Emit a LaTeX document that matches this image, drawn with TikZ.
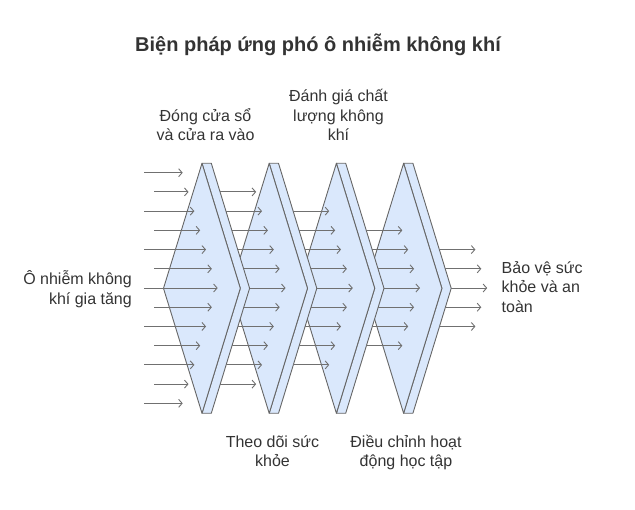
\documentclass[tikz,border=0pt]{standalone}
\usepackage{fontspec}
\setmainfont{Liberation Sans}
\usetikzlibrary{arrows.meta}
\definecolor{platefill}{HTML}{DAE8FC}
\definecolor{edgecol}{HTML}{666666}
\definecolor{arrowcol}{HTML}{707070}
\definecolor{txt}{HTML}{333333}
\begin{document}
\begin{tikzpicture}[x=1pt,y=-1pt,
  platestyle/.style={fill=platefill,draw=edgecol,line width=0.9pt,line join=round},
  flow/.style={draw=arrowcol,line width=0.9pt,-{Straight Barb[length=3.5pt,width=8pt]}},
  lbl/.style={font=\fontsize{16}{19.5}\selectfont,text=txt,align=center,inner sep=0pt},
  titlestyle/.style={font=\fontsize{20}{24}\selectfont\bfseries,text=txt,inner sep=0pt}]
\useasboundingbox (0,0) rectangle (635,510);

% title
\node[titlestyle,anchor=base] (title) at (318,51.5) {Biện pháp ứng phó ô nhiễm không khí};

% plates (drawn last-first so that earlier plates lie on top)
\foreach \i in {3,2,1,0} {
  \pgfmathsetmacro\t{202+67.2*\i}
  \coordinate (p\i-top) at (\t,163.3);
  \coordinate (p\i-bot) at (\t,413.3);
  \coordinate (p\i-left) at (\t-38.5,288.3);
  \coordinate (p\i-right) at (\t+38.3,288.3);
  \coordinate (p\i-btop) at (\t+9.3,163.3);
  \coordinate (p\i-bbot) at (\t+9.3,413.3);
  \coordinate (p\i-bright) at (\t+47.6,288.3);
  \draw[platestyle] (p\i-top) -- (p\i-btop) -- (p\i-bright) -- (p\i-bbot) -- (p\i-bot) -- (p\i-right) -- cycle;
  \draw[platestyle] (p\i-top) -- (p\i-right) -- (p\i-bot) -- (p\i-left) -- cycle;
}

% incoming arrows
\foreach \k in {0,...,12} {
  \pgfmathsetmacro\y{172.7+19.22*\k}
  \pgfmathsetmacro\d{abs(\k-6)}
  \pgfmathsetmacro\s{ifthenelse(mod(\k,2)==0,144,154)}
  \pgfmathsetmacro\e{217.7-5.83*\d}
  \coordinate (in\k-s) at (\s,\y);
  \coordinate (in\k-e) at (\e,\y);
  \draw[flow] (in\k-s) -- (in\k-e);
}

% arrows after each plate
\foreach \i in {0,...,3} {
  \pgfmathtruncatemacro\lo{1+\i}
  \pgfmathtruncatemacro\hi{11-\i}
  \foreach \k in {\lo,...,\hi} {
    \pgfmathsetmacro\y{172.7+19.22*\k}
    \pgfmathsetmacro\d{abs(\k-6)}
    \pgfmathsetmacro\s{202+67.2*\i+47.6-5.89*\d}
    \coordinate (g\i-\k-s) at (\s,\y);
    \coordinate (g\i-\k-e) at (\s+36,\y);
    \draw[flow] (g\i-\k-s) -- (g\i-\k-e);
  }
}

% labels (base anchor = baseline of the last line)
\node[lbl,anchor=base] (l1) at (205.5,140.7) {Đóng cửa sổ\\và cửa ra vào};
\node[lbl,anchor=base] (l3) at (338.5,140.7) {Đánh giá chất\\lượng không\\khí};
\node[lbl,anchor=base] (l2) at (272.5,466.7) {Theo dõi sức\\khỏe};
\node[lbl,anchor=base] (l4) at (406,466.7) {Điều chỉnh hoạt\\động học tập};
\node[lbl,align=right,anchor=base east] (lin) at (132,304.3) {Ô nhiễm không\\khí gia tăng};
\node[lbl,align=left,anchor=base west] (lout) at (501.5,312.3) {Bảo vệ sức\\khỏe và an\\toàn};
\end{tikzpicture}
\end{document}
